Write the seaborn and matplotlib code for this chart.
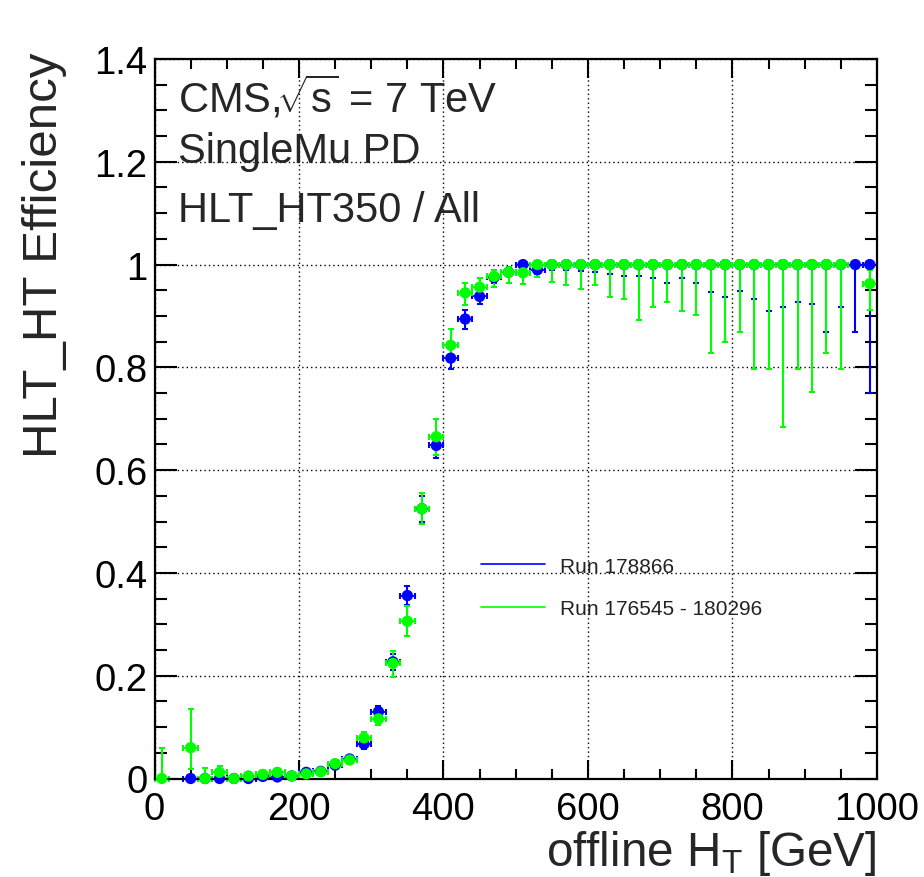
import numpy as np
import pandas as pd
import matplotlib
matplotlib.use("Agg")
import matplotlib.pyplot as plt
import seaborn as sns
from matplotlib.lines import Line2D
from matplotlib.ticker import MultipleLocator

# ---------------- data ----------------
ht_bins = [10, 30, 50, 70, 90, 110, 130, 150, 170, 190, 210, 230, 250, 270, 290,
           310, 330, 350, 370, 390, 410, 430, 450, 470, 490, 510, 530, 550, 570,
           590, 610, 630, 650, 670, 690, 710, 730, 750, 770, 790, 810, 830, 850,
           870, 890, 910, 930, 950, 970, 990]

# Run 178866 (blue)
eff_blue = [np.nan, np.nan, 0.0, 0.0, 0.0, 0.0, 0.0, 0.004, 0.003, 0.005, 0.012, 0.014,
            0.026, 0.038, 0.067, 0.13, 0.227, 0.356, 0.525, 0.648, 0.818, 0.894,
            0.938, 0.975, 0.985, 1.0, 0.99, 1.0, 1.0, 1.0, 1.0, 1.0, 1.0, 1.0, 1.0,
            1.0, 1.0, 1.0, 1.0, 1.0, 1.0, 1.0, 1.0, 1.0, 1.0, 1.0, 1.0, 1.0, 1.0, 1.0]
lo_blue = [np.nan, np.nan, 0.0, 0.0, 0.0, 0.0, 0.0, 0.002, 0.002, 0.003, 0.008, 0.01,
           0.021, 0.032, 0.057, 0.118, 0.212, 0.338, 0.5, 0.624, 0.796, 0.874,
           0.923, 0.965, 0.977, 0.995, 0.982, 0.99, 0.989, 0.987, 0.985, 0.981,
           0.978, 0.978, 0.973, 0.964, 0.973, 0.964, 0.946, 0.936, 0.948, 0.933,
           0.910, 0.917, 0.928, 0.923, 0.868, 0.917, 0.868, 0.751]
hi_blue = [np.nan, np.nan, 0.004, 0.004, 0.004, 0.004, 0.004, 0.007, 0.006, 0.008,
           0.016, 0.018, 0.031, 0.044, 0.077, 0.142, 0.242, 0.374, 0.55, 0.672,
           0.84, 0.911, 0.952, 0.983, 0.992, 1.0, 0.995, 1.0, 1.0, 1.0, 1.0, 1.0,
           1.0, 1.0, 1.0, 1.0, 1.0, 1.0, 1.0, 1.0, 1.0, 1.0, 1.0, 1.0, 1.0, 1.0,
           1.0, 1.0, 1.0, 1.0]

# Run 176545 - 180296 (green)
eff_green = [0.0, np.nan, 0.06, 0.0, 0.012, 0.0, 0.005, 0.008, 0.012, 0.005, 0.009,
             0.013, 0.029, 0.036, 0.079, 0.116, 0.224, 0.306, 0.525, 0.665, 0.843,
             0.945, 0.956, 0.977, 0.985, 0.984, 1.0, 1.0, 1.0, 1.0, 1.0, 1.0, 1.0,
             1.0, 1.0, 1.0, 1.0, 1.0, 1.0, 1.0, 1.0, 1.0, 1.0, 1.0, 1.0, 1.0, 1.0,
             1.0, np.nan, 0.963]
lo_green = [0.0, np.nan, 0.018, 0.0, 0.004, 0.0, 0.002, 0.004, 0.007, 0.002, 0.005,
            0.009, 0.023, 0.03, 0.068, 0.104, 0.198, 0.277, 0.495, 0.63, 0.81,
            0.922, 0.938, 0.956, 0.964, 0.962, 0.975, 0.966, 0.961, 0.952, 0.960,
            0.936, 0.933, 0.893, 0.917, 0.928, 0.910, 0.902, 0.827, 0.850, 0.868,
            0.796, 0.796, 0.683, 0.796, 0.752, 0.827, 0.796, np.nan, 0.911]
hi_green = [0.06, np.nan, 0.136, 0.02, 0.024, 0.006, 0.01, 0.013, 0.018, 0.01, 0.014,
            0.018, 0.036, 0.043, 0.091, 0.129, 0.249, 0.336, 0.555, 0.699, 0.874,
            0.965, 0.973, 0.99, 0.995, 0.995, 1.0, 1.0, 1.0, 1.0, 1.0, 1.0, 1.0,
            1.0, 1.0, 1.0, 1.0, 1.0, 1.0, 1.0, 1.0, 1.0, 1.0, 1.0, 1.0, 1.0, 1.0,
            1.0, np.nan, 0.99]

bin_half_width = 10
label_blue = "Run 178866"
label_green = "Run 176545 - 180296"
x_ticks = [0, 200, 400, 600, 800, 1000]
y_ticks = [0, 0.2, 0.4, 0.6, 0.8, 1.0, 1.2, 1.4]
y_ticklabels = ["0", "0.2", "0.4", "0.6", "0.8", "1", "1.2", "1.4"]

# ---------------- style ----------------
sns.set_style("ticks")
plt.rcParams["font.family"] = ["Liberation Sans", "DejaVu Sans"]
plt.rcParams["mathtext.fontset"] = "custom"
plt.rcParams["mathtext.rm"] = "Liberation Sans"
plt.rcParams["mathtext.it"] = "Liberation Sans:italic"
plt.rcParams["mathtext.bf"] = "Liberation Sans:bold"

BLUE = "#0000ff"
GREEN = "#00ff00"

W, H = 924, 878
fig = plt.figure(figsize=(W / 100, H / 100), dpi=100)
L, R, T, B = 154.5, 877, 60, 779.5
ax = fig.add_axes([L / W, 1 - B / H, (R - L) / W, (B - T) / H])

df = pd.DataFrame({
    "ht": ht_bins * 2,
    "eff": eff_blue + eff_green,
    "lo": lo_blue + lo_green,
    "hi": hi_blue + hi_green,
    "run": [label_blue] * len(ht_bins) + [label_green] * len(ht_bins),
})

for run, color in [(label_blue, BLUE), (label_green, GREEN)]:
    d = df[(df["run"] == run) & df["eff"].notna()]
    yerr = np.vstack([d["eff"] - d["lo"], d["hi"] - d["eff"]])
    ax.errorbar(d["ht"], d["eff"], yerr=yerr, fmt="none", ecolor=color,
                elinewidth=1.5, capsize=2.3, capthick=1.5, clip_on=False, zorder=2)
    ax.errorbar(d["ht"], d["eff"], xerr=bin_half_width, fmt="none", ecolor=color,
                elinewidth=1.3, capsize=2.5, capthick=1.5, clip_on=False, zorder=2)
    sns.scatterplot(data=d, x="ht", y="eff", color=color, s=66, edgecolor="none",
                    linewidth=0, ax=ax, legend=False, clip_on=False, zorder=3)

ax.set_xlim(0, 1000)
ax.set_ylim(0, 1.4)
ax.set_xticks(x_ticks)
ax.set_yticks(y_ticks)
ax.set_yticklabels(y_ticklabels)
ax.xaxis.set_minor_locator(MultipleLocator(50))
ax.yaxis.set_minor_locator(MultipleLocator(0.05))
ax.tick_params(axis="both", which="both", direction="in", top=True, right=True,
               width=1.5, colors="black")
ax.tick_params(axis="x", which="major", length=14, labelsize=27.5, pad=9)
ax.tick_params(axis="x", which="minor", length=7)
ax.tick_params(axis="y", which="major", length=15.5, labelsize=27.5, pad=5)
ax.tick_params(axis="y", which="minor", length=8.5)
for s in ax.spines.values():
    s.set_linewidth(1.6)
    s.set_color("black")
ax.grid(True, which="major", color="black", linestyle=(0, (1, 2.2)), linewidth=1.0)
ax.set_axisbelow(True)
ax.set_xlabel("")
ax.set_ylabel("")

# axis titles
fig.text(876 / W, 1 - 866 / H, r"offline H$_\mathrm{T}$ [GeV]", fontsize=34.3,
         ha="right", va="baseline")
fig.text(57 / W, 1 - 53 / H, "HLT_HT Efficiency", fontsize=35.5, rotation=90,
         ha="right", va="baseline", rotation_mode="anchor")

# annotations
ax.text(178 / W, 1 - 113 / H, r"CMS,$\!\sqrt{\mathrm{s}}$ = 7 TeV", fontsize=30,
        transform=fig.transFigure, ha="left", va="baseline")
ax.text(178 / W, 1 - 163 / H, "SingleMu PD", fontsize=30,
        transform=fig.transFigure, ha="left", va="baseline")
ax.text(178 / W, 1 - 222 / H, "HLT_HT350 / All", fontsize=30,
        transform=fig.transFigure, ha="left", va="baseline")

# legend (lines only, no frame)
handles = [Line2D([0], [0], color=BLUE, lw=1.2), Line2D([0], [0], color=GREEN, lw=1.2)]
leg = ax.legend(handles, [label_blue, label_green], loc="upper left",
                bbox_to_anchor=(462 / W, 1 - 539 / H), bbox_transform=fig.transFigure,
                frameon=False, fontsize=15, handlelength=3.1, handletextpad=0.7,
                labelspacing=1.12)
for t in leg.get_texts():
    t.set_color("#222222")

fig.savefig("out.png", dpi=100, facecolor="white")
